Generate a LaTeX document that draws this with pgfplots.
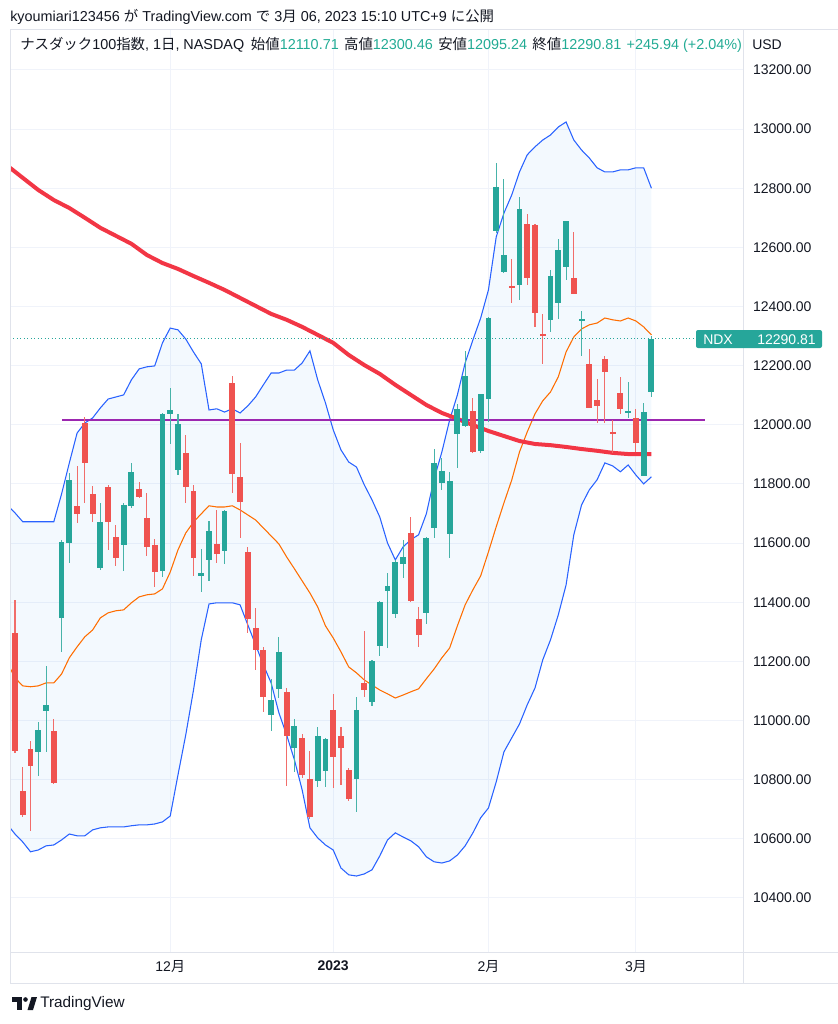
\documentclass[border=0pt]{standalone}
\usepackage{fontspec}
\setmainfont{Liberation Sans}
\newfontfamily\jp{Noto Sans CJK JP}
\usepackage{pgfplots}
\pgfplotsset{compat=1.18}
\usepackage{pgfplotstable}
\usepgfplotslibrary{fillbetween}

\definecolor{tvgreen}{HTML}{26A69A}
\definecolor{tvred}{HTML}{EF5350}
\definecolor{bbblue}{HTML}{2962FF}
\definecolor{bborange}{HTML}{FF6D00}
\definecolor{bbfill}{HTML}{2196F3}
\definecolor{mared}{HTML}{F23645}
\definecolor{hline}{HTML}{9C27B0}
\definecolor{gridc}{HTML}{F0F3FA}
\definecolor{borderc}{HTML}{E0E3EB}
\definecolor{txt}{HTML}{131722}
\definecolor{val}{HTML}{22AB94}

\pgfplotstableread{
i o h l c
4 10893 10994 10811 10969
5 11032 11186 10893 11053
7 11345 11610 11232 11602
8 11599 11838 11533 11814
12 11517 11737 11510 11672
15 11592 11734 11505 11728
16 11726 11870 11720 11842
20 11507 12040 11484 12035
21 12035 12123 11935 12049
22 11847 12035 11831 12001
25 11490 11581 11433 11498
26 11543 11674 11473 11640
28 11573 11712 11530 11709
34 11017 11139 10965 11070
35 11107 11284 11077 11231
37 10906 11004 10827 10982
40 10796 10977 10776 10946
41 10829 10940 10776 10937
45 10802 11079 10692 11036
47 11064 11205 11049 11202
48 11253 11405 11218 11400
49 11438 11498 11244 11456
50 11359 11543 11346 11537
51 11528 11611 11481 11554
54 11363 11622 11327 11616
55 11650 11917 11616 11870
56 11802 11887 11778 11845
57 11631 11842 11549 11811
58 11970 12070 11853 12052
59 11996 12248 11994 12165
61 11912 12103 11905 12103
62 12086 12366 12011 12362
63 12656 12884 12648 12803
64 12518 12830 12515 12574
66 12473 12772 12422 12729
70 12355 12524 12315 12503
71 12413 12627 12357 12591
72 12532 12689 12490 12689
74 12351 12385 12234 12359
80 12039 12146 12022 12045
82 11828 12073 11828 12042
83 12110.71 12300.46 12095.24 12290.81
}\upc

\pgfplotstableread{
i o h l c
1 11296 11407 10890 10898
2 10763 10844 10672 10680
3 10904 10930 10627 10847
6 10966 11006 10785 10789
9 11725 11861 11667 11697
10 12006 12026 11734 11870
11 11765 11794 11672 11697
13 11789 11795 11576 11672
14 11621 11661 11523 11550
17 11782 11808 11751 11757
18 11686 11768 11558 11586
19 11592 11615 11450 11501
23 11905 11964 11734 11789
24 11777 11797 11490 11550
27 11596 11711 11532 11564
29 12140 12165 11768 11833
30 11823 11940 11616 11738
31 11569 11588 11295 11342
32 11312 11382 11171 11239
33 11239 11250 11027 11081
36 11095 11109 10780 10949
38 10940 10953 10805 10816
39 10802 10897 10666 10675
42 11036 11090 10771 10875
43 10946 10979 10782 10908
44 10833 10839 10726 10735
46 11128 11304 11081 11103
52 11633 11687 11402 11404
53 11342 11385 11250 11289
60 12047 12090 11904 11909
65 12470 12560 12413 12464
67 12679 12712 12473 12496
68 12676 12680 12332 12379
69 12306 12374 12205 12303
73 12495 12653 12441 12441
75 12205 12255 12058 12058
76 12084 12155 12007 12065
77 12223 12231 12005 12178
78 11977 12016 11904 11968
79 12107 12160 12036 12054
81 12022 12052 11909 11938
}\dnc

\pgfplotstableread{
i up mid lo
0.36 11719 11178 10637
1 11702 11144 10616
2 11672 11117 10589
3 11672 11114 10556
4 11672 11117 10562
5 11672 11127 10576
6 11672 11127 10579
7 11766 11157 10596
8 11871 11212 10616
9 11972 11249 10610
10 12006 11283 10610
11 12023 11306 10630
12 12057 11347 10637
13 12087 11364 10640
14 12094 11371 10640
15 12101 11374 10640
16 12152 11398 10644
17 12189 11418 10647
18 12196 11425 10647
19 12199 11428 10650
20 12277 11445 10657
21 12327 11502 10677
22 12321 11577 10816
23 12290 11634 10951
24 12246 11671 11103
25 12206 11699 11273
26 12050 11726 11394
27 12054 11722 11398
28 12043 11722 11398
29 12054 11726 11398
30 12040 11712 11391
31 12064 11695 11323
32 12094 11678 11256
33 12135 11651 11188
34 12175 11624 11127
35 12175 11597 11026
36 12185 11553 10951
37 12185 11513 10867
38 12209 11472 10765
39 12250 11431 10637
40 12152 11384 10603
41 12074 11320 10579
42 11983 11279 10562
43 11915 11232 10501
44 11874 11181 10478
45 11857 11161 10474
46 11797 11137 10481
47 11746 11120 10495
48 11688 11103 10542
49 11600 11090 10596
50 11543 11076 10620
51 11587 11086 10606
52 11611 11097 10593
53 11628 11107 10573
54 11699 11141 10539
55 11817 11174 10522
56 11908 11212 10518
57 12016 11245 10525
58 12101 11320 10545
59 12209 11391 10576
60 12287 11442 10620
61 12361 11489 10671
62 12456 11570 10704
63 12635 11655 10792
64 12716 11736 10894
65 12777 11813 10941
66 12855 11908 10988
67 12913 11976 11053
68 12940 12037 11110
69 12963 12081 11205
70 12980 12111 11273
71 13007 12162 11357
72 13024 12246 11458
73 12963 12297 11628
74 12929 12324 11729
75 12902 12338 11780
76 12869 12344 11814
77 12855 12361 11871
78 12855 12355 11861
79 12862 12351 11841
80 12862 12361 11864
81 12869 12351 11830
82 12869 12331 11800
83 12800 12304 11824
}\bb

\pgfplotstableread{
i ma
0.36 12869
2 12835
4 12794
6 12760
8 12733
10 12700
12 12666
14 12639
16 12612
18 12574
20 12547
22 12527
24 12503
26 12480
28 12456
30 12429
32 12402
34 12375
36 12355
38 12331
40 12304
42 12277
44 12236
46 12202
48 12172
50 12135
52 12101
54 12067
56 12040
58 12020
60 11999
62 11979
64 11962
66 11945
68 11935
70 11931
72 11925
74 11918
76 11912
78 11905
80 11901
82 11901
83 11901
}\ma

\begin{document}
\begin{tikzpicture}
\begin{axis}[
  anchor=north west, at={(7.5pt,-22.5pt)},
  width=549.75pt, height=691.5pt, scale only axis,
  xmin=0.356, xmax=94.8, ymin=10217, ymax=13335,
  axis line style={draw=none},
  tick style={draw=none},
  ytick={10400,10600,...,13200},
  scaled y ticks=false,
  yticklabel pos=right,
  /pgf/number format/assume math mode=true,
  /pgf/number format/.cd, fixed, fixed zerofill, precision=2, 1000 sep={},
  /pgfplots/.cd,
  yticklabel style={font=\fontsize{10.5}{12}\selectfont, text=txt, anchor=west, xshift=4pt},
  xtick={21,42,62,81},
  xticklabels={12{\jp 月},{\bfseries 2023},2{\jp 月},3{\jp 月}},
  xticklabel style={font=\fontsize{10.5}{12}\selectfont, text=txt, yshift=-3pt},
  xmajorgrids, ymajorgrids,
  grid style={draw=gridc, line width=0.75pt},
]
% Bollinger fill
\addplot[name path=bbup, draw=none, forget plot] table[x=i,y=up]{\bb};
\addplot[name path=bblo, draw=none, forget plot] table[x=i,y=lo]{\bb};
\addplot[fill=bbfill, fill opacity=0.055, draw=none] fill between[of=bbup and bblo];
% Bollinger lines
\addplot[bbblue, line width=0.8pt, mark=none] table[x=i,y=up]{\bb};
\addplot[bbblue, line width=0.8pt, mark=none] table[x=i,y=lo]{\bb};
\addplot[bborange, line width=0.8pt, mark=none] table[x=i,y=mid]{\bb};
% moving average
\addplot[mared, line width=3pt, mark=none] table[x=i,y=ma]{\ma};
% horizontal line
\addplot[hline, line width=1.6pt, mark=none] coordinates {(7.06,12016) (89.9,12016)};
% last price line
\addplot[tvgreen, line width=0.6pt, dotted, mark=none] coordinates {(0.356,12290.81) (88.8,12290.81)};
% wicks
\addplot[draw=none, mark=none, error bars/.cd, y dir=both, y explicit, error mark=none,
  error bar style={draw=tvgreen!85, line width=0.8pt}]
  table[x=i, y expr={(\thisrow{h}+\thisrow{l})/2}, y error expr={(\thisrow{h}-\thisrow{l})/2}]{\upc};
\addplot[draw=none, mark=none, error bars/.cd, y dir=both, y explicit, error mark=none,
  error bar style={draw=tvred!85, line width=0.8pt}]
  table[x=i, y expr={(\thisrow{h}+\thisrow{l})/2}, y error expr={(\thisrow{h}-\thisrow{l})/2}]{\dnc};
% bodies
\addplot[draw=none, mark=none, error bars/.cd, y dir=both, y explicit, error mark=none,
  error bar style={draw=tvgreen, line width=4.4pt}]
  table[x=i, y expr={(\thisrow{o}+\thisrow{c})/2}, y error expr={max(abs(\thisrow{c}-\thisrow{o})/2,2)}]{\upc};
\addplot[draw=none, mark=none, error bars/.cd, y dir=both, y explicit, error mark=none,
  error bar style={draw=tvred, line width=4.4pt}]
  table[x=i, y expr={(\thisrow{o}+\thisrow{c})/2}, y error expr={max(abs(\thisrow{c}-\thisrow{o})/2,2)}]{\dnc};
\end{axis}
\begin{scope}[x=0.75pt,y=-0.75pt]
\path[use as bounding box] (0,0) rectangle (838,1024);
\draw[borderc, line width=0.75pt] (10,30) -- (838,30);
\draw[borderc, line width=0.75pt] (10,30) -- (10,983);
\draw[borderc, line width=0.75pt] (743,30) -- (743,983);
\draw[borderc, line width=0.75pt] (10,952) -- (838,952);
\draw[borderc, line width=0.75pt] (10,983) -- (838,983);
% header
\node[anchor=west, inner sep=0pt, text=txt, font=\fontsize{10.8}{12}\selectfont] at (10,17)
  {kyoumiari123456 {\jp が} TradingView.com {\jp で} 3{\jp 月} 06, 2023 15:10 UTC+9 {\jp に公開}};
\node[anchor=west, inner sep=0pt, text=txt, font=\fontsize{10.8}{12}\selectfont] at (20,45)
  {{\jp ナスダック}100{\jp 指数}, 1{\jp 日}, NASDAQ\hspace{5pt}{\jp 始値}\textcolor{val}{12110.71}\hspace{4pt}{\jp 高値}\textcolor{val}{12300.46}\hspace{4pt}{\jp 安値}\textcolor{val}{12095.24}\hspace{4pt}{\jp 終値}\textcolor{val}{12290.81}\hspace{4pt}\textcolor{val}{+245.94 (+2.04\%)}};
\node[anchor=west, inner sep=0pt, text=txt, font=\fontsize{10.5}{12}\selectfont] at (752,45) {USD};
% last price tag
\fill[tvgreen, rounded corners=1.5pt] (696,330) rectangle (822,348);
\node[anchor=west, inner sep=0pt, text=white, font=\fontsize{10.5}{12}\selectfont] at (703,339.5) {NDX};
\node[anchor=east, inner sep=0pt, text=white, font=\fontsize{10.5}{12}\selectfont] at (816,339.5) {12290.81};
% logo
\fill[txt] (12,997) rectangle (22,1001.5);
\fill[txt] (17,1001.5) rectangle (22,1010);
\fill[txt] (25.5,999.5) circle (2.3);
\fill[txt] (27.5,1010) -- (31.5,997) -- (37,997) -- (33,1010) -- cycle;
\node[anchor=west, inner sep=0pt, text=txt, font=\fontsize{11.5}{13}\selectfont] at (40,1003.5) {TradingView};
\end{scope}
\end{tikzpicture}
\end{document}
